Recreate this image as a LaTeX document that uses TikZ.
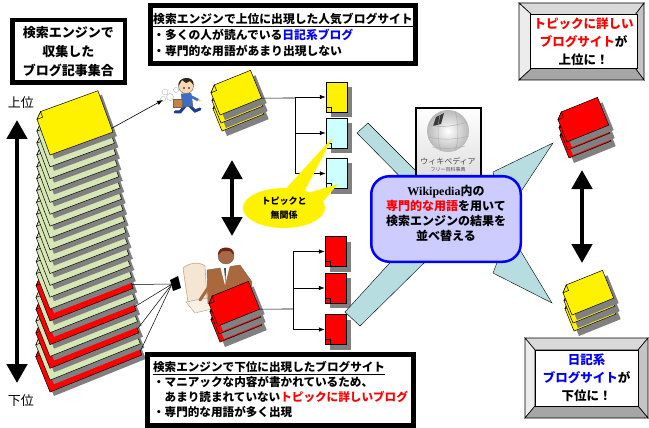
\documentclass[tikz,border=0pt]{standalone}
\usepackage{fontspec}
\setmainfont{Noto Sans CJK JP}
\newfontfamily\wikiserif{Liberation Serif}
\usetikzlibrary{arrows.meta,shadows,shapes.geometric}

\definecolor{pagegreen}{RGB}{214,231,181}
\definecolor{pagecyan}{RGB}{204,255,255}
\definecolor{pageshadow}{RGB}{128,128,128}
\definecolor{bandteal}{RGB}{183,221,224}
\definecolor{boxlav}{RGB}{204,204,255}
\definecolor{bevtop}{RGB}{217,217,217}
\definecolor{bevleft}{RGB}{236,236,236}
\definecolor{bevright}{RGB}{196,196,196}
\definecolor{bevbot}{RGB}{166,166,166}
\definecolor{skin}{RGB}{250,214,178}
\definecolor{hairdark}{RGB}{45,35,30}
\definecolor{shirtblue}{RGB}{60,110,200}
\definecolor{pantsblue}{RGB}{30,60,140}
\definecolor{caseb}{RGB}{200,130,60}
\definecolor{beige}{RGB}{245,230,212}
\definecolor{beigeline}{RGB}{200,165,135}
\definecolor{suit}{RGB}{170,105,60}
\definecolor{darkskin}{RGB}{165,105,70}
\definecolor{hairred}{RGB}{110,35,20}

% one sheet with its drop shadow; origin at the lower-left corner
% #1,#2 position  #3 angle  #4 width  #5 height  #6 fill  #7 shadow offset
\newcommand\sheet[7]{%
  \begin{scope}[shift={(#1+#7,#2+#7)},rotate=#3]
    \fill[pageshadow] (0,0) -- (#4,0) -- (#4,-#5) -- (6,-#5) -- (0,-#5+6) -- cycle;
  \end{scope}
  \begin{scope}[shift={(#1,#2)},rotate=#3]
    \filldraw[fill=#6,line width=0.5pt] (0,0) -- (#4,0) -- (#4,-#5) -- (6,-#5) -- (0,-#5+6) -- cycle;
    \filldraw[fill=#6,line width=0.5pt] (0,-#5+6) -- (6,-#5+6) -- (6,-#5) -- cycle;
  \end{scope}}

% a small pile of three sheets; #4 names its right corner
\newcommand\minstack[4]{%
  \sheet{#1+2}{#2+16}{22}{45}{30}{#3}{5}
  \sheet{#1+1}{#2+8}{22}{45}{30}{#3}{5}
  \sheet{#1}{#2}{22}{45}{30}{#3}{5}
  \begin{scope}[shift={(#1,#2)},rotate=22]\coordinate (#4) at (45,0);\end{scope}}

% framed box with bevelled border: outer x1 y1 x2 y2, inner x1 y1 x2 y2
\newcommand\bevel[8]{%
  \filldraw[fill=bevtop,line width=0.6pt] (#1,#2) -- (#3,#2) -- (#7,#6) -- (#5,#6) -- cycle;
  \filldraw[fill=bevleft,line width=0.6pt] (#1,#2) -- (#5,#6) -- (#5,#8) -- (#1,#4) -- cycle;
  \filldraw[fill=bevright,line width=0.6pt] (#3,#2) -- (#3,#4) -- (#7,#8) -- (#7,#6) -- cycle;
  \filldraw[fill=bevbot,line width=0.6pt] (#1,#4) -- (#3,#4) -- (#7,#8) -- (#5,#8) -- cycle;}

\tikzset{
  framebox/.style={draw, line width=5pt, fill=white, inner sep=3pt},
  leaf/.style={draw, line width=0.5pt, minimum width=21pt, minimum height=30pt, inner sep=0pt,
    drop shadow={shadow xshift=5pt, shadow yshift=-5pt, fill=pageshadow, opacity=1},
    path picture={\draw[line width=0.5pt]
      ([yshift=5pt]path picture bounding box.south west) --
      ([xshift=5pt,yshift=5pt]path picture bounding box.south west) --
      ([xshift=5pt]path picture bounding box.south west);}},
  thinarrow/.style={line width=0.6pt, -{Latex[length=6pt,width=4.5pt]}},
  branch/.style={line width=0.6pt},
  bigarrow/.style={line width=4.5pt,
    {Triangle[length=19pt,width=20pt]}-{Triangle[length=19pt,width=20pt]}},
  band/.style={fill=bandteal, draw=black, line width=0.4pt},
  boxfont/.style={font=\bfseries\fontsize{11.8}{16}\selectfont},
}

\begin{document}
\begin{tikzpicture}[x=1pt,y=-1pt]
\useasboundingbox (0,0) rectangle (649,428);
\fill[white] (0,0) rectangle (649,428);

% ---------- rank arrow on the left ----------
\node[font=\fontsize{13}{13}\selectfont] (toplabel) at (21,103) {上位};
\node[font=\fontsize{13}{13}\selectfont] (bottomlabel) at (21,401) {下位};
\coordinate (rankhi) at (17,120);
\coordinate (ranklo) at (17,383);
\draw[bigarrow] (rankhi) -- (ranklo);

% ---------- collected blog articles (big pile) ----------
\foreach \i in {20,19,...,0}{
  \pgfmathsetmacro\by{155+11.85*\i}
  \pgfmathsetmacro\w{67+1.6*\i}
  \pgfmathsetmacro\ang{20+0.1*\i}
  \ifnum\i=0 \def\pc{yellow}\else
    \ifnum\i>13 \ifodd\i\def\pc{pagegreen}\else\def\pc{red}\fi
    \else\def\pc{pagegreen}\fi\fi
  \sheet{50}{\by}{\ang}{\w}{44}{\pc}{4}
  \begin{scope}[shift={(50,\by)},rotate=\ang]
    \coordinate (sheet-\i) at (\w,-4);
  \end{scope}
}

% ---------- running man ----------
\foreach \px/\py/\r in {165/92/3, 170/97/3.5, 163/99/2.5, 176/90/2.5}
  \filldraw[fill=white,draw=gray!60,line width=0.4pt] (\px,\py) circle[radius=\r];
\draw[pantsblue,line width=3pt,line cap=round] (186,105) -- (180,112) -- (175,112);
\draw[pantsblue,line width=3pt,line cap=round] (189,105) -- (195,111) -- (200,109);
\filldraw[fill=shirtblue,draw=black!60,line width=0.4pt] (181,94) -- (191,93) -- (193,106) -- (183,107) -- cycle;
\draw[shirtblue,line width=2.5pt,line cap=round] (190,96) -- (198,100);
\fill[skin] (199.5,100.5) circle[radius=1.6];
\filldraw[fill=caseb,draw=black!60,line width=0.4pt] (173,99) rectangle (182,107);
\filldraw[fill=skin,draw=black!60,line width=0.4pt] (186,86) circle[radius=7.5];
\fill[hairdark] (178.5,86) .. controls (177,76) and (195,75) .. (193.6,85) -- (190,81) -- (186,83) -- (182,80) -- cycle;
\fill (184,88) circle[radius=0.8];
\fill (189,88) circle[radius=0.8];
\coordinate (runner) at (163,100);
\draw[thinarrow] (sheet-0) -- (runner);

% ---------- man at the computer ----------
\filldraw[fill=beige,draw=beigeline,line width=0.6pt] (183,268) .. controls (190,262) and (200,262) .. (205,266) -- (207,298) -- (188,302) -- cycle;
\filldraw[fill=beige!60,draw=beigeline,line width=0.5pt] (186,302) -- (207,298) -- (216,308) -- (195,313) -- cycle;
\filldraw[fill=suit,draw=black!60,line width=0.4pt] (207,270) -- (240,265) -- (252,282) -- (250,302) -- (208,304) -- cycle;
\fill[white] (220,266) -- (230,265) -- (225,285) -- cycle;
\fill[black!70] (224,268) -- (226,268) -- (225.5,283) -- cycle;
\filldraw[fill=darkskin,draw=black!60,line width=0.4pt] (226,256) circle[radius=8];
\fill[hairred] (218,255) .. controls (217,245) and (235,245) .. (234,255) -- (230,251) -- (222,251) -- cycle;
\draw[suit,line width=3pt,line cap=round] (210,285) -- (200,300);
\fill[black] (170,280) -- (178,276) -- (181,288) -- (173,291) -- cycle;
\coordinate (pcback) at (172,284);
\foreach \i in {14,16,18,20} \draw[line width=0.5pt] (sheet-\i) -- (pcback);

% ---------- the two small piles in the middle ----------
\minstack{220}{115}{yellow}{toppile}
\minstack{218}{326}{red}{lowpile}

% ---------- result pages ----------
\node[leaf,fill=yellow]   (u1) at (336.5,97)   {};
\node[leaf,fill=pagecyan] (u2) at (336.5,133)  {};
\node[leaf,fill=pagecyan] (u3) at (336.5,173.5){};
\node[leaf,fill=red] (d1) at (335.5,251.5) {};
\node[leaf,fill=red] (d2) at (335.5,288)   {};
\node[leaf,fill=red] (d3) at (335.5,329.5) {};

\coordinate (ujoin) at (295,98);
\draw[branch] (toppile) -- (ujoin);
\draw[branch] (ujoin |- u1) -- (ujoin |- u3);
\foreach \n in {u1,u2,u3} \draw[thinarrow] (ujoin |- \n) -- (\n.west);

\coordinate (djoin) at (293,309);
\draw[branch] (lowpile) -- (djoin);
\draw[branch] (djoin |- d1) -- (djoin |- d3);
\foreach \n in {d1,d2,d3} \draw[thinarrow] (djoin |- \n) -- (\n.west);

% ---------- callout ----------
\fill[yellow] (281,194) -- (333,137) -- (302,196) -- cycle;
\fill[yellow] (298,196) -- (338,184) -- (314,212) -- cycle;
\node[ellipse,fill=yellow,minimum width=82pt,minimum height=40pt,inner sep=0pt,
  align=center,font=\bfseries\fontsize{9}{13.5}\selectfont] (offtopic) at (284,208) {トピックと\\無関係};

% ---------- middle double arrows ----------
\coordinate (midhi) at (232,160);
\coordinate (midlo) at (232,236);
\draw[bigarrow] (midhi) -- (midlo);
\coordinate (righthi) at (582,170);
\coordinate (rightlo) at (582,263);
\draw[bigarrow] (righthi) -- (rightlo);

% ---------- right piles ----------
\minstack{567}{142}{red}{goodpile}
\minstack{572}{315}{yellow}{diarypile}

% ---------- bands behind the Wikipedia box ----------
\filldraw[band] (357,133) -- (368,123) -- (445,200) -- (434,211) -- cycle;
\filldraw[band] (345,312) -- (397,255) -- (425,262) -- (360,326) -- cycle;
\filldraw[band] (493,172) -- (553,143) -- (522,190) -- (500,200) -- cycle;
\filldraw[band] (520,250) -- (552,303) -- (493,273) -- (500,255) -- cycle;

% ---------- Wikipedia logo ----------
\node[draw,line width=2.5pt,minimum width=65pt,minimum height=70pt,inner sep=0pt,
  top color=white,bottom color=gray!25] (wikilogo) at (448.5,143) {};
\shade[inner color=white,outer color=gray!55] (448,131) circle[radius=21];
\fill[gray!45!black] (436,117) -- (444,113) -- (441,124) -- (433,126) -- cycle;
\begin{scope}[gray!65,line width=0.4pt]
  \draw (430,125) .. controls (440,128) and (456,126) .. (467,122);
  \draw (428,137) .. controls (440,140) and (456,140) .. (469,136);
  \draw (432,147) .. controls (442,149) and (455,149) .. (465,146);
  \draw (441,111) .. controls (437,125) and (437,140) .. (441,151);
  \draw (455,111) .. controls (459,125) and (459,140) .. (455,151);
\end{scope}
\node[text=gray!60!black,font=\fontsize{8}{8}\selectfont,inner sep=0pt] (wikiname) at (448,161) {ウィキペディア};
\node[text=gray!60!black,font=\fontsize{5}{5}\selectfont,inner sep=0pt] (wikisub) at (448,169.5) {フリー百科事典};

% ---------- method box ----------
\node[draw=blue,line width=2.5pt,fill=boxlav,rounded corners=18pt,
  minimum width=149.5pt,minimum height=85.5pt] (method) at (446,219) {};
\node[align=center,font=\bfseries\fontsize{12}{15}\selectfont,inner sep=0pt] (methodtext) at (446,213.5)
  {{\wikiserif\bfseries Wikipedia}内の\\\textcolor{red}{専門的な用語}を用いて\\検索エンジンの結果を\\並べ替える};

% ---------- text boxes ----------
\node[framebox,line width=4.5pt,minimum width=112.5pt,minimum height=62.5pt,align=center,
  font=\bfseries\fontsize{13}{19}\selectfont] (collected) at (68.5,51.5)
  {検索エンジンで\\収集した\\ブログ記事集合};

\node[framebox,minimum width=265pt,minimum height=58pt,align=left,boxfont] (popular) at (283,34.5)
  {\underline{検索エンジンで上位に出現した人気ブログサイト}\\
   ・多くの人が読んでいる\textcolor{blue}{日記系ブログ}\\
   ・専門的な用語があまり出現しない};

\node[framebox,minimum width=266pt,minimum height=71pt,align=left,
  font=\bfseries\fontsize{11.6}{14.7}\selectfont] (niche) at (280.5,389.5)
  {\underline{検索エンジンで下位に出現したブログサイト}\\
   ・マニアックな内容が書かれているため、\\
   \phantom{・}あまり読まれていない\textcolor{red}{トピックに詳しいブログ}\\
   ・専門的な用語が多く出現};

% ---------- bevelled result boxes ----------
\bevel{519}{3}{644}{80}{532}{15}{635}{68}
\node[draw,line width=0.6pt,fill=white,minimum width=103pt,minimum height=53pt,align=center,
  font=\bfseries\fontsize{12.5}{18}\selectfont] (goodnote) at (583.5,41.5)
  {\textcolor{red}{トピックに詳しい}\\\textcolor{red}{ブログサイト}が\\上位に！};

\bevel{525}{338}{648}{418}{535}{350}{638}{406}
\node[draw,line width=0.6pt,fill=white,minimum width=103pt,minimum height=56pt,align=center,
  font=\bfseries\fontsize{12.5}{18}\selectfont] (diarynote) at (586.5,378)
  {\textcolor{blue}{日記系}\\\textcolor{blue}{ブログサイト}が\\下位に！};
\end{tikzpicture}
\end{document}
